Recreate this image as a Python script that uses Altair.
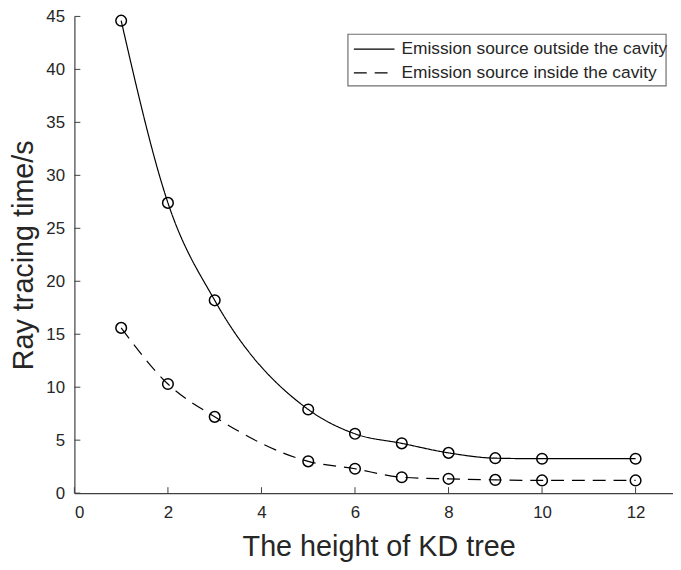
import altair as alt
import pandas as pd

heights = [1, 2, 3, 5, 6, 7, 8, 9, 10, 12]
outside = [44.6, 27.4, 18.2, 7.9, 5.6, 4.7, 3.8, 3.3, 3.25, 3.25]
inside = [15.6, 10.3, 7.2, 3.0, 2.3, 1.5, 1.35, 1.25, 1.2, 1.2]
series_names = ["Emission source outside the cavity", "Emission source inside the cavity"]
x_ticks = [0, 2, 4, 6, 8, 10, 12]
y_ticks = [0, 5, 10, 15, 20, 25, 30, 35, 40, 45]

rows = []
for h, v in zip(heights, outside):
    rows.append({"h": h, "t": v, "s": series_names[0]})
for h, v in zip(heights, inside):
    rows.append({"h": h, "t": v, "s": series_names[1]})
df = pd.DataFrame(rows)

W, H = 604, 481
FONT = "Liberation Sans"
TXT = "#262626"
DASH = [13, 8]

xs = alt.Scale(domain=[0, 12.8], nice=False, zero=False)
ys = alt.Scale(domain=[0, 45], nice=False)

base = alt.Chart(df)

lines = base.mark_line(interpolate="monotone", color="black", strokeWidth=1.2).encode(
    x=alt.X("h:Q", scale=xs, title="The height of KD tree",
            axis=alt.Axis(values=x_ticks, tickSize=0, labelPadding=12, grid=False,
                          titlePadding=12, titleX=307, titleAlign="center")),
    y=alt.Y("t:Q", scale=ys, title="Ray tracing time/s",
            axis=alt.Axis(values=y_ticks, tickSize=0, labelPadding=10, grid=False,
                          titlePadding=7)),
    strokeDash=alt.StrokeDash(
        "s:N",
        scale=alt.Scale(domain=series_names, range=[[1, 0], DASH]),
        legend=None,
    ),
)

points = base.mark_point(shape="circle", filled=False, color="black", size=115,
                         strokeWidth=1.5, opacity=1).encode(
    x=alt.X("h:Q", scale=xs),
    y=alt.Y("t:Q", scale=ys),
    detail="s:N",
)

xt = alt.Chart(pd.DataFrame({"v": x_ticks})).mark_rule(color="#404040", strokeWidth=1).encode(
    x=alt.X("v:Q", scale=xs), y=alt.value(H), y2=alt.value(H - 6)
)
yt = alt.Chart(pd.DataFrame({"v": y_ticks})).mark_rule(color="#404040", strokeWidth=1).encode(
    y=alt.Y("v:Q", scale=ys), x=alt.value(0), x2=alt.value(6)
)

# legend (drawn by hand)
leg_df = pd.DataFrame({"name": series_names})
box = alt.Chart(leg_df.head(1)).mark_rect(fill="white", stroke="#707070", strokeWidth=1.2).encode(
    x=alt.value(276), x2=alt.value(597), y=alt.value(18), y2=alt.value(70)
)
leg1_line = alt.Chart(leg_df.iloc[[0]]).mark_rule(color="black", strokeWidth=1.2).encode(
    x=alt.value(282), x2=alt.value(323), y=alt.value(33)
)
leg2_line = alt.Chart(leg_df.iloc[[1]]).mark_rule(color="black", strokeWidth=1.2, strokeDash=DASH).encode(
    x=alt.value(282), x2=alt.value(323), y=alt.value(57)
)
leg1_txt = alt.Chart(leg_df.iloc[[0]]).mark_text(
    align="left", baseline="middle", font=FONT, fontSize=17.5, color=TXT
).encode(x=alt.value(330), y=alt.value(33), text="name:N")
leg2_txt = alt.Chart(leg_df.iloc[[1]]).mark_text(
    align="left", baseline="middle", font=FONT, fontSize=17.5, color=TXT
).encode(x=alt.value(330), y=alt.value(57), text="name:N")

chart = alt.layer(lines, points, xt, yt, box, leg1_line, leg2_line, leg1_txt, leg2_txt).properties(
    width=W, height=H,
    autosize=alt.AutoSizeParams(type="none"),
    padding={"left": 67, "top": 6, "right": 0, "bottom": 70},
).configure_view(stroke=None).configure_axis(
    domainColor="#404040", domainWidth=1.2,
    labelFont=FONT, labelFontSize=17, labelColor=TXT,
    titleFont=FONT, titleFontSize=29, titleFontWeight="normal", titleColor=TXT,
)

chart.save("out.html", embed_options={"renderer": "svg", "actions": False})
